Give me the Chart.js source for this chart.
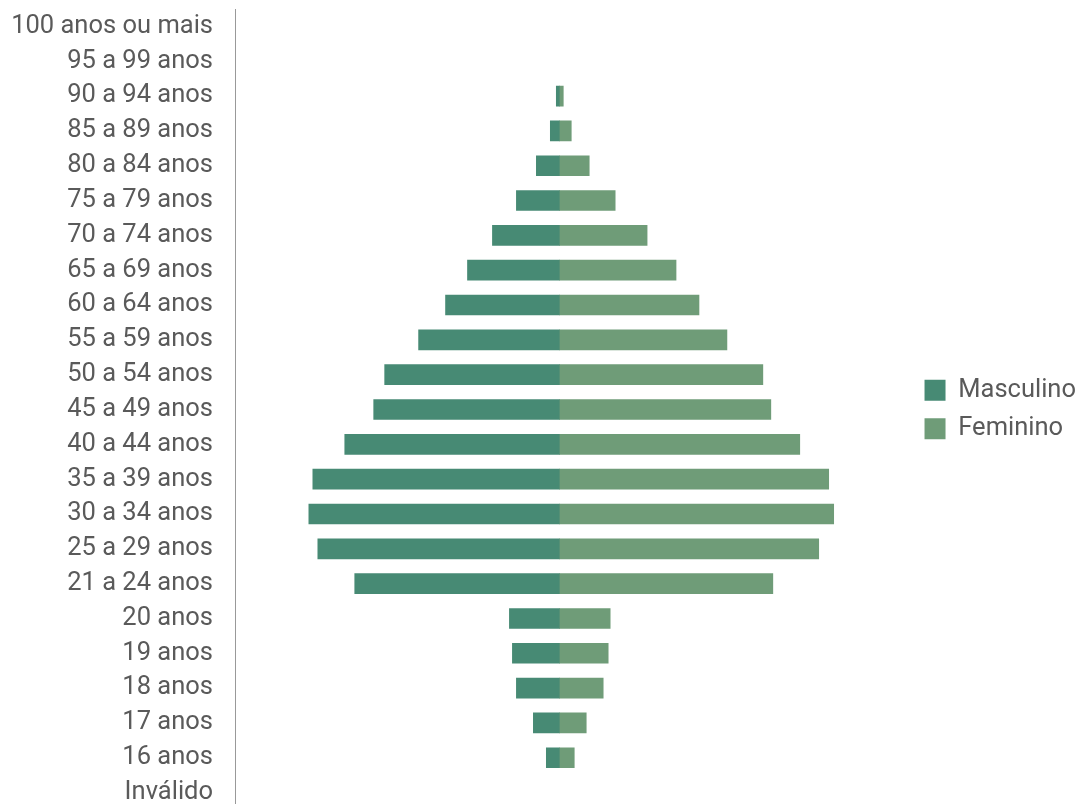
<!DOCTYPE html>
<html>
<head>
<meta charset="utf-8">
<title>Pirâmide etária</title>
<script src="https://cdn.jsdelivr.net/npm/chart.js@4/dist/chart.umd.min.js"></script>
<style>
    html, body { margin: 0; padding: 0; background: #fff; overflow: hidden; }
    #wrap { width: 1086px; height: 810px; }
</style>
</head>
<body>
<div id="wrap"><canvas id="myChart"></canvas></div>
<script>
// Faixas etárias (de cima para baixo)
var faixas = ["100 anos ou mais", "95 a 99 anos", "90 a 94 anos", "85 a 89 anos", "80 a 84 anos",
    "75 a 79 anos", "70 a 74 anos", "65 a 69 anos", "60 a 64 anos", "55 a 59 anos", "50 a 54 anos",
    "45 a 49 anos", "40 a 44 anos", "35 a 39 anos", "30 a 34 anos", "25 a 29 anos", "21 a 24 anos",
    "20 anos", "19 anos", "18 anos", "17 anos", "16 anos", "Inválido"];

// Eleitores por faixa
var masculino = [0, 0, 3, 9, 23, 43, 67, 92, 114, 141, 175, 186, 215, 247, 251, 242, 205, 50, 47, 43, 26, 13, 0];
var feminino = [0, 0, 4, 12, 30, 56, 88, 117, 140, 168, 204, 212, 241, 270, 275, 260, 214, 51, 49, 44, 27, 15, 0];

var corMasc = "#478a74";
var corFem = "#6f9c78";

// faixas vazias ficam sem barra
var semZero = (v) => v === 0 ? null : v;

var ctx = document.getElementById("myChart").getContext("2d");

new Chart(ctx, {
    type: "bar",
    data: {
        labels: faixas,
        datasets: [{
            label: "Masculino",
            // homens para a esquerda
            data: masculino.map(function(v) { return semZero(-v); }),
            backgroundColor: corMasc,
            barThickness: 20
        }, {
            label: "Feminino",
            data: feminino.map(semZero),
            backgroundColor: corFem,
            barThickness: 20
        }]
    },
    options: {
        indexAxis: "y",
        responsive: true,
        maintainAspectRatio: false,
        animation: false,
        layout: { padding: { top: 9, left: 0, right: 0, bottom: 0 } },
        font: { family: "Roboto" },
        scales: {
            x: {
                stacked: true,
                display: false,
                min: -325,
                max: 353
            },
            y: {
                stacked: true,
                grid: { display: false, drawTicks: false },
                border: { display: true, color: "#999", width: 1 },
                ticks: {
                    color: "#5a5a5a",
                    padding: 22,
                    font: { family: "Roboto", size: 25.5 }
                },
                afterFit: function(scale) {
                    scale.width = 235;
                    scale.paddingTop = 0;
                    scale.paddingBottom = 0;
                }
            }
        },
        plugins: {
            legend: {
                position: "right",
                align: "center",
                labels: {
                    boxWidth: 21,
                    boxHeight: 21,
                    padding: 13,
                    color: "#5a5a5a",
                    font: { family: "Roboto", size: 25.5 }
                }
            },
            tooltip: {
                callbacks: {
                    label: function(item) {
                        return item.dataset.label + ": " + Math.abs(item.raw);
                    }
                }
            }
        }
    }
});
</script>
</body>
</html>
